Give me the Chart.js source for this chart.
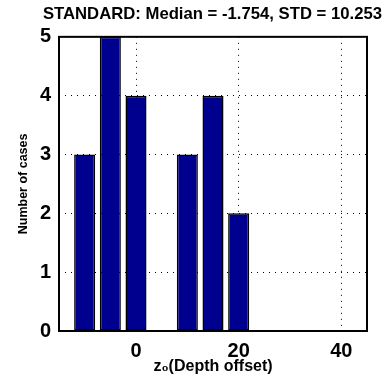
<!DOCTYPE html>
<html><head><meta charset="utf-8">
<script src="https://cdn.jsdelivr.net/npm/chart.js@4"></script>
<style>html,body{margin:0;padding:0;background:#fff}#wrap{width:384px;height:387px}</style>
</head><body><div id="wrap"><canvas id="c" width="384" height="387"></canvas></div>
<script>
const binCenters = [-10, -5, 0, 5, 10, 15, 20];
const caseCounts = [3, 5, 4, 0, 3, 4, 2];
const xTicks = [0, 20, 40];
const yTicks = [0, 1, 2, 3, 4, 5];
const titleText = 'STANDARD: Median = -1.754, STD = 10.253';
const xLabel = 'z\u2080(Depth offset)';
const yLabel = 'Number of cases';

Chart.defaults.font.family = "'Liberation Sans', Arial, sans-serif";
Chart.defaults.color = '#000';

const frame = {
  id: 'frame',
  afterDatasetsDraw(chart) {
    const {ctx, chartArea: a} = chart;
    ctx.save();
    ctx.strokeStyle = '#000';
    ctx.lineWidth = 2;
    ctx.strokeRect(a.left, a.top, a.right - a.left, a.bottom - a.top);
    ctx.restore();
  }
};

new Chart(document.getElementById('c'), {
  type: 'bar',
  data: {
    datasets: [{
      data: binCenters.map((x, i) => ({x: x, y: caseCounts[i]})),
      backgroundColor: '#00008F',
      borderColor: '#000',
      borderWidth: 1.5,
      borderSkipped: false,
      barPercentage: 0.82,
      categoryPercentage: 1
    }]
  },
  options: {
    responsive: false,
    animation: false,
    layout: {padding: {left: 0, right: 2, top: 0, bottom: 0}},
    plugins: {
      legend: {display: false},
      tooltip: {enabled: false},
      title: {
        display: true,
        text: titleText,
        align: 'end',
        color: '#000',
        font: {size: 16.7, weight: 'bold'},
        padding: {top: 3.9, bottom: 12.9}
      }
    },
    scales: {
      x: {
        type: 'linear',
        min: -15,
        max: 45,
        offset: false,
        afterBuildTicks(s) { s.ticks = xTicks.map(v => ({value: v})); },
        afterFit(s) { s.height = 56; },
        ticks: {font: {size: 20, weight: 'bold'}, color: '#000', padding: 8, maxRotation: 0},
        grid: {color: '#000', lineWidth: 1, drawTicks: false, offset: false},
        border: {display: false, dash: [1, 5]},
        title: {display: true, text: xLabel, color: '#000', font: {size: 16, weight: 'bold'}, padding: {top: 0, bottom: 11}}
      },
      y: {
        type: 'linear',
        min: 0,
        max: 5,
        afterBuildTicks(s) { s.ticks = yTicks.map(v => ({value: v})); },
        afterFit(s) { s.width = 59; },
        ticks: {font: {size: 20, weight: 'bold'}, color: '#000', padding: 8},
        grid: {color: '#000', lineWidth: 1, drawTicks: false},
        border: {display: false, dash: [1, 5]},
        title: {display: true, text: yLabel, color: '#000', font: {size: 12.5, weight: 'bold'}, padding: {top: 16, bottom: 0}}
      },
      y2: {
        type: 'linear',
        position: 'right',
        display: true,
        grid: {display: false, drawTicks: false},
        ticks: {display: false},
        border: {display: false},
        afterFit(s) { s.width = 15; }
      }
    }
  },
  plugins: [frame]
});
</script>
</body></html>
